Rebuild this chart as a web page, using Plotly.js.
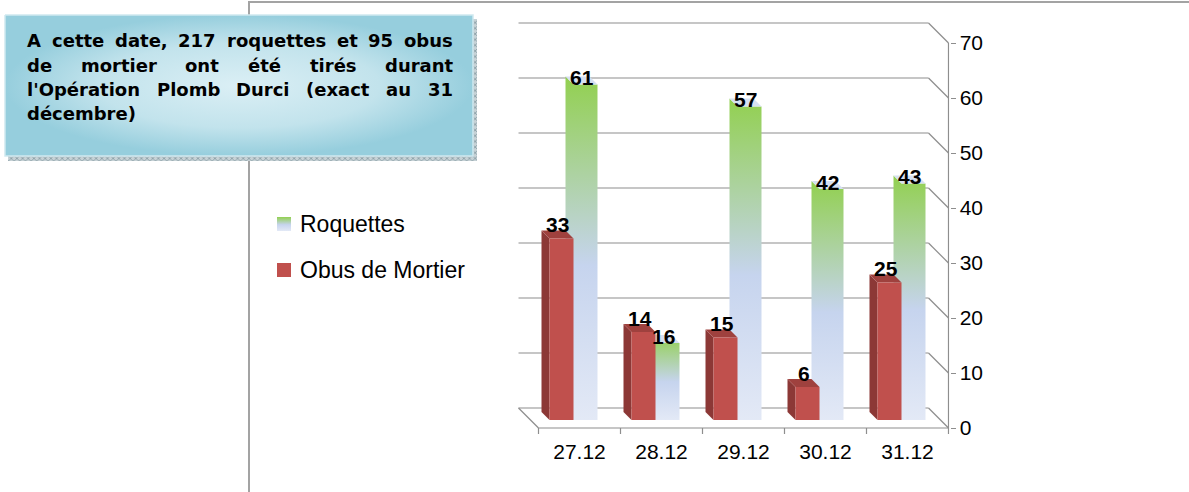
<!DOCTYPE html>
<html><head><meta charset="utf-8">
<script src="https://cdn.plot.ly/plotly-3.0.1.min.js"></script>
<style>html,body{margin:0;padding:0;background:#fff}#chart{width:1189px;height:492px}</style>
</head><body><div id="chart"></div>
<script>
// ---- data ----
const categories = ['27.12', '28.12', '29.12', '30.12', '31.12'];
const roquettes = [61, 14, 57, 42, 43];
const obus = [33, 16, 15, 6, 25];
const roquettesLabels = ['61', '16', '57', '42', '43'];
const obusLabels = ['33', '14', '15', '6', '25'];
const yTicks = [0, 10, 20, 30, 40, 50, 60, 70];
const seriesNames = ['Roquettes', 'Obus de Mortier'];
const noteLines = [
  'A cette date, 217 roquettes et 95 obus',
  'de mortier ont été tirés durant',
  "l'Opération Plomb Durci (exact au 31",
  'décembre)'
];

// ---- layout constants ----
const W = 1189, H = 492;
const pxPerCat = 82, pxPerUnit = 5.5;
const cat0Px = 579.5, zeroPx = 428;
const plotL = 509, plotR = 949.5, plotT = 12, plotB = 437;
const DXW = -20 / pxPerCat, DYW = 20 / pxPerUnit;   // wall depth
const D0 = 0.4, D1 = 0.8;                            // bar depth
const proj = (x, v, d) => [x + d * DXW, v + d * DYW];

const rocketScale = [[0, '#e3e9f6'], [0.45, '#c6d4ee'], [1, '#92d050']];
const mortarFront = '#c0504d', mortarSide = '#8c3836', mortarTop = '#9f413e';
const gridColor = '#8e8e8e';
const numFont = 'Liberation Sans Narrow, Arial Narrow, Liberation Sans, Arial, sans-serif';

function poly(points, extra, ax) {
  const xs = points.map(p => p[0]); xs.push(points[0][0]);
  const ys = points.map(p => p[1]); ys.push(points[0][1]);
  return Object.assign({
    type: 'scatter', mode: 'lines', x: xs, y: ys, fill: 'toself',
    line: { width: 0 }, hoverinfo: 'skip', showlegend: false,
    xaxis: ax ? 'x2' : 'x', yaxis: ax ? 'y2' : 'y'
  }, extra);
}

const traces = [];
const annotations = [];

// bars, drawn right to left
for (let i = categories.length - 1; i >= 0; i--) {
  // Roquettes
  let v = roquettes[i];
  let xl = i + 2 / pxPerCat, xr = i + 26 / pxPerCat;
  traces.push(poly([proj(xl, 0, D1), proj(xl, v, D1), proj(xl, v, D0), proj(xr, v, D0), proj(xr, 0, D0), proj(xl, 0, D0)],
    { fillgradient: { type: 'vertical', colorscale: rocketScale } }));
  traces.push(poly([proj(xl, v, D0), proj(xr, v, D0), proj(xr, v, D1), proj(xl, v, D1)], { fillcolor: '#d6e0f2' }));
  let c = proj((xl + xr) / 2, v, (D0 + D1) / 2);
  annotations.push({ x: c[0], y: c[1], xref: 'x', yref: 'y', text: roquettesLabels[i], showarrow: false,
    xanchor: 'center', yanchor: 'middle', yshift: 3,
    font: { family: numFont, size: 21, color: '#000', weight: 'bold' } });

  // Obus de Mortier
  v = obus[i];
  xl = i - 22 / pxPerCat; xr = i + 2 / pxPerCat;
  traces.push(poly([proj(xl, 0, D0), proj(xl, v, D0), proj(xl, v, D1), proj(xl, 0, D1)], { fillcolor: mortarSide }));
  traces.push(poly([proj(xl, v, D0), proj(xr, v, D0), proj(xr, v, D1), proj(xl, v, D1)], { fillcolor: mortarTop }));
  traces.push(poly([proj(xl, 0, D0), proj(xr, 0, D0), proj(xr, v, D0), proj(xl, v, D0)], { fillcolor: mortarFront }));
  c = proj((xl + xr) / 2, v, (D0 + D1) / 2);
  annotations.push({ x: c[0], y: c[1], xref: 'x', yref: 'y', text: obusLabels[i], showarrow: false,
    xanchor: 'center', yanchor: 'middle', yshift: 10,
    font: { family: numFont, size: 21, color: '#000', weight: 'bold' } });
}

// walls, floor, gridlines
const shapes = [];
const seg = (a, b) => shapes.push({ type: 'line', xref: 'x', yref: 'y', layer: 'below',
  x0: a[0], y0: a[1], x1: b[0], y1: b[1], line: { color: gridColor, width: 1.2 } });
const xFirst = -0.5, xLast = categories.length - 0.5;
yTicks.forEach(t => {
  seg(proj(xFirst, t, 1), proj(xLast, t, 1));
  seg(proj(xLast, t, 1), proj(xLast, t, 0));
});
seg(proj(xFirst, 0, 1), proj(xFirst, 0, 0));
seg(proj(xFirst, 0, 0), proj(xLast, 0, 0));
seg(proj(xLast, 0, 0), proj(xLast, yTicks[yTicks.length - 1], 0));
for (let k = 0; k <= categories.length; k++) {
  seg([k - 0.5, 0], [k - 0.5, -6 / pxPerUnit]);
}

// ---- decorations in pixel space (x2/y2) ----
// chart border
traces.push({ type: 'scatter', mode: 'lines', x: [249, 249, W], y: [H, 2, 2], xaxis: 'x2', yaxis: 'y2',
  line: { color: '#a3a3a3', width: 2 }, hoverinfo: 'skip', showlegend: false });
// note box shadow
traces.push(poly([[8, 19], [477, 19], [477, 161], [8, 161]],
  { fillpattern: { shape: 'x', size: 4, solidity: 0.4, fgcolor: '#8fa3aa', bgcolor: '#c7d2d6' }, fillcolor: '#c7d2d6' }, true));
// note box
traces.push(poly([[5, 15], [473, 15], [473, 156], [5, 156]],
  { fillgradient: { type: 'radial', colorscale: [[0, '#dbeff5'], [0.6, '#c2e3ec'], [1, '#96cedd']] }, line: { width: 1.5, color: '#cfe9f0' } }, true));

// justified note text
const noteFont = { family: 'DejaVu Sans', size: 18, color: '#000', weight: 'bold' };
const ctx = document.createElement('canvas').getContext('2d');
ctx.font = 'bold 18px "DejaVu Sans"';
const textL = 27, textR = 453;
noteLines.forEach((line, li) => {
  const yc = 40.8 + li * 24.3;
  const words = line.split(' ');
  const last = li === noteLines.length - 1;
  const widths = words.map(w => ctx.measureText(w).width);
  const sum = widths.reduce((a, b) => a + b, 0);
  const gap = (!last && words.length > 1) ? (textR - textL - sum) / (words.length - 1) : ctx.measureText(' ').width;
  let x = textL;
  words.forEach((w, k) => {
    annotations.push({ x: x - 1, y: yc, xref: 'x2', yref: 'y2', text: w, showarrow: false,
      xanchor: 'left', yanchor: 'middle', font: noteFont, borderpad: 0 });
    x += widths[k] + gap;
  });
});

// legend
const legendItems = [
  { name: seriesNames[0], y: 224, style: { fillgradient: { type: 'vertical', colorscale: rocketScale } } },
  { name: seriesNames[1], y: 270, style: { fillcolor: mortarFront } }
];
legendItems.forEach(it => {
  traces.push(poly([[277, it.y - 7], [291, it.y - 7], [291, it.y + 7], [277, it.y + 7]], it.style, true));
  annotations.push({ x: 298, y: it.y, xref: 'x2', yref: 'y2', text: it.name, showarrow: false,
    xanchor: 'left', yanchor: 'middle',
    font: { family: 'Liberation Sans, Arial, sans-serif', size: 23, color: '#000' } });
});

const layout = {
  width: W, height: H,
  margin: { l: 0, r: 0, t: 0, b: 0 },
  paper_bgcolor: '#ffffff', plot_bgcolor: 'rgba(0,0,0,0)',
  showlegend: false,
  xaxis: {
    domain: [plotL / W, plotR / W],
    range: [(plotL - cat0Px) / pxPerCat, (plotR - cat0Px) / pxPerCat],
    tickvals: categories.map((c, i) => i), ticktext: categories,
    ticks: '', showgrid: false, zeroline: false, showline: false,
    tickfont: { family: numFont, size: 21, color: '#000' }, fixedrange: true
  },
  yaxis: {
    domain: [1 - plotB / H, 1 - plotT / H],
    range: [(zeroPx - plotB) / pxPerUnit, (zeroPx - plotT) / pxPerUnit],
    side: 'right', tickvals: yTicks, ticks: 'outside', ticklen: 5, tickcolor: gridColor,
    showgrid: false, zeroline: false, showline: false,
    tickfont: { family: numFont, size: 21, color: '#000' }, fixedrange: true
  },
  xaxis2: { domain: [0, 1], range: [0, W], visible: false, anchor: 'y2', fixedrange: true },
  yaxis2: { domain: [0, 1], range: [H, 0], visible: false, anchor: 'x2', fixedrange: true },
  shapes: shapes,
  annotations: annotations
};

Plotly.newPlot('chart', traces, layout, { displayModeBar: false, staticPlot: true });
</script>
</body></html>
